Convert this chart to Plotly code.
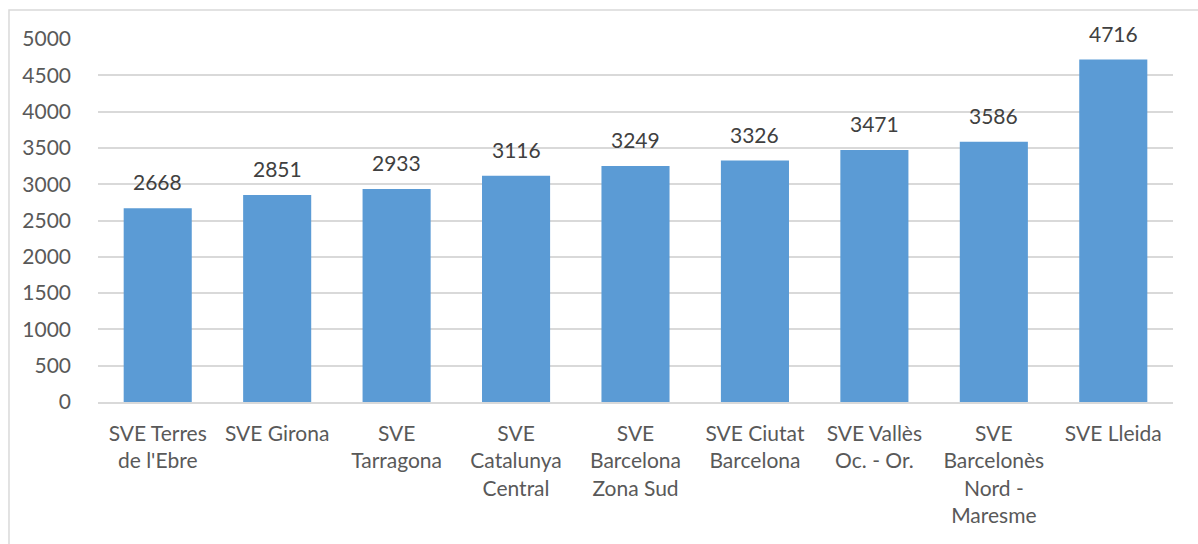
import plotly.graph_objects as go

# Dades: serveis territorials (SVE) i valors
categories = [
    "SVE Terres<br>de l'Ebre",
    "SVE Girona",
    "SVE<br>Tarragona",
    "SVE<br>Catalunya<br>Central",
    "SVE<br>Barcelona<br>Zona Sud",
    "SVE Ciutat<br>Barcelona",
    "SVE Vallès<br>Oc. - Or.",
    "SVE<br>Barcelonès<br>Nord -<br>Maresme",
    "SVE Lleida",
]
valors = [2668, 2851, 2933, 3116, 3249, 3326, 3471, 3586, 4716]
ticks_y = [0, 500, 1000, 1500, 2000, 2500, 3000, 3500, 4000, 4500, 5000]

fig = go.Figure()
fig.add_trace(go.Bar(
    x=categories, y=valors,
    marker=dict(color="#5B9BD5", line=dict(width=0)),
))

# etiquetes de valor una mica separades de la barra
for cat, v in zip(categories, valors):
    fig.add_annotation(x=cat, y=v, text=str(v), showarrow=False,
                       yanchor="bottom", yshift=12,
                       font=dict(size=21, color="#404040"))

fig.update_layout(
    width=1198, height=544,
    margin=dict(l=98, r=25, t=39, b=142, autoexpand=False),
    paper_bgcolor="white", plot_bgcolor="white",
    font=dict(family="Lato", size=21, color="#595959"),
    bargap=0.43,
    showlegend=False,
    shapes=[dict(type="rect", xref="paper", yref="paper",
                 x0=-0.0828, x1=1.06, y0=-0.6, y1=1.08,
                 line=dict(color="#d9d9d9", width=1.5), layer="below")],
)
fig.update_xaxes(showline=True, linecolor="#d9d9d9", linewidth=1.5,
                 ticks="", tickangle=0, ticklabelstandoff=12,
                 showgrid=False, automargin=False)
fig.update_yaxes(range=[0, 5000], tickvals=ticks_y, showgrid=True,
                 gridcolor="#d9d9d9", gridwidth=1.5, zeroline=False,
                 ticks="", ticklabelstandoff=26, automargin=False)

# treure el marge per defecte del body perque el grafic quedi a (0,0)
fig.write_html("out.html", config={"displayModeBar": False},
               post_script="document.body.style.margin='0';")
